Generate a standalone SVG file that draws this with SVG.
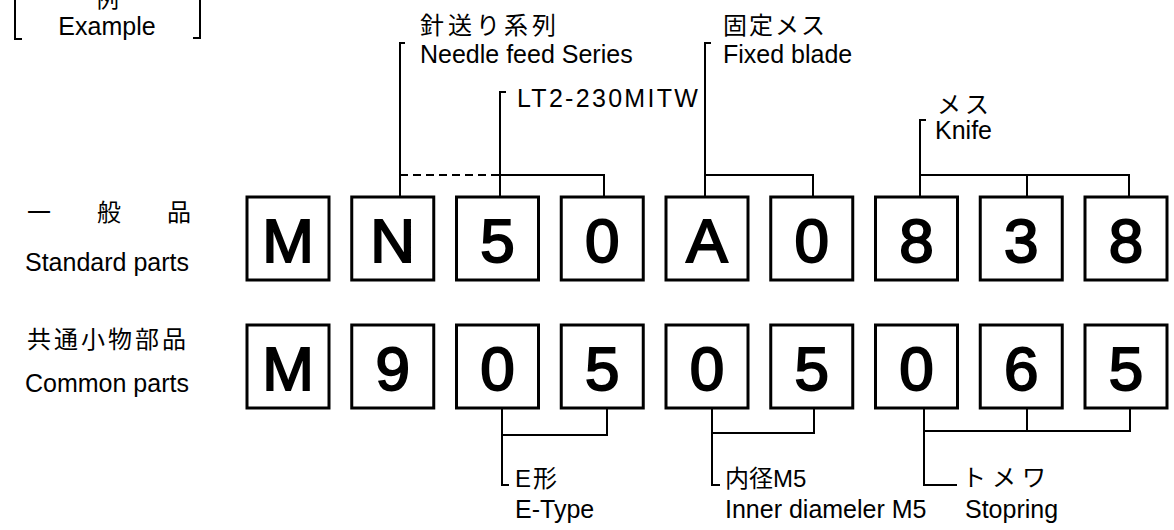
<svg xmlns="http://www.w3.org/2000/svg" width="1174" height="530" viewBox="0 0 1174 530">
<style>
.box{fill:#fff;stroke:#000;stroke-width:3}
.ch{font-family:"Liberation Sans",Arial,sans-serif;font-size:62px;text-anchor:middle;fill:#000;stroke:#000;stroke-width:2}
.lbl{font-family:"Liberation Sans",Arial,sans-serif;font-size:25px;fill:#000}
.jp{font-family:"Liberation Sans","Noto Sans CJK JP",sans-serif;font-size:24px;fill:#000}
.ln{fill:none;stroke:#000;stroke-width:2}
</style>
<rect width="1174" height="530" fill="#fff"/>
<g id="example">
<path class="ln" d="M15,0 V39 H22 M200,0 V38 H193"/>
<text class="jp" x="107" y="7" text-anchor="middle">例</text>
<text class="lbl" x="107" y="35" text-anchor="middle">Example</text>
</g>
<g id="row-labels">
<text class="jp" x="27" y="221">一</text>
<text class="jp" x="97" y="221">般</text>
<text class="jp" x="167" y="221">品</text>
<text class="lbl" x="25" y="271">Standard parts</text>
<text class="jp" x="27" y="348" letter-spacing="3">共通小物部品</text>
<text class="lbl" x="25" y="392">Common parts</text>
</g>
<g id="row1">
<rect class="box" x="247" y="197" width="82" height="83"/><text class="ch" x="288" y="262">M</text>
<rect class="box" x="351.75" y="197" width="82" height="83"/><text class="ch" x="392.75" y="262">N</text>
<rect class="box" x="456.5" y="197" width="82" height="83"/><text class="ch" x="497.5" y="262">5</text>
<rect class="box" x="561.25" y="197" width="82" height="83"/><text class="ch" x="602.25" y="262">0</text>
<rect class="box" x="666" y="197" width="82" height="83"/><text class="ch" x="707" y="262">A</text>
<rect class="box" x="770.75" y="197" width="82" height="83"/><text class="ch" x="811.75" y="262">0</text>
<rect class="box" x="875.5" y="197" width="82" height="83"/><text class="ch" x="916.5" y="262">8</text>
<rect class="box" x="980.25" y="197" width="82" height="83"/><text class="ch" x="1021.25" y="262">3</text>
<rect class="box" x="1085" y="197" width="82" height="83"/><text class="ch" x="1126" y="262">8</text>
</g>
<g id="row2">
<rect class="box" x="247" y="325" width="82" height="83"/><text class="ch" x="288" y="390">M</text>
<rect class="box" x="351.75" y="325" width="82" height="83"/><text class="ch" x="392.75" y="390">9</text>
<rect class="box" x="456.5" y="325" width="82" height="83"/><text class="ch" x="497.5" y="390">0</text>
<rect class="box" x="561.25" y="325" width="82" height="83"/><text class="ch" x="602.25" y="390">5</text>
<rect class="box" x="666" y="325" width="82" height="83"/><text class="ch" x="707" y="390">0</text>
<rect class="box" x="770.75" y="325" width="82" height="83"/><text class="ch" x="811.75" y="390">5</text>
<rect class="box" x="875.5" y="325" width="82" height="83"/><text class="ch" x="916.5" y="390">0</text>
<rect class="box" x="980.25" y="325" width="82" height="83"/><text class="ch" x="1021.25" y="390">6</text>
<rect class="box" x="1085" y="325" width="82" height="83"/><text class="ch" x="1126" y="390">5</text>
</g>
<g id="connectors">
<path class="ln" d="M405,43 H400 V197"/>
<path class="ln" d="M400,175 H500" stroke-dasharray="8,5"/>
<path class="ln" d="M506,92 H500 V197 M500,175 H604 V197"/>
<path class="ln" d="M711,43 H705 V197 M705,175 H813 V197"/>
<path class="ln" d="M926,120 H920 V197 M920,175 H1129 V197 M1027,175 V197"/>
<path class="ln" d="M502,408 V485 H509 M502,435 H607 V408"/>
<path class="ln" d="M712,408 V485 H720 M712,433 H814 V408"/>
<path class="ln" d="M924,408 V485 H957 M924,431 H1130 V408 M1027,431 V408"/>
</g>
<g id="labels">
<text class="jp" x="420" y="34" letter-spacing="4">針送り系列</text>
<text class="lbl" x="420" y="63">Needle feed Series</text>
<text class="lbl" x="517" y="107" letter-spacing="2.3">LT2-230MITW</text>
<text class="jp" x="723" y="34" letter-spacing="2">固定メス</text>
<text class="lbl" x="723" y="63">Fixed blade</text>
<text class="jp" x="937" y="113" letter-spacing="4">メス</text>
<text class="lbl" x="935" y="139">Knife</text>
<text class="jp" x="515" y="487" letter-spacing="2">E形</text>
<text class="lbl" x="515" y="518">E-Type</text>
<text class="jp" x="725" y="487">内径M5</text>
<text class="lbl" x="725" y="518">Inner diameler M5</text>
<text class="jp" x="962" y="486" letter-spacing="6">トメワ</text>
<text class="lbl" x="965" y="518">Stopring</text>
</g>
</svg>
